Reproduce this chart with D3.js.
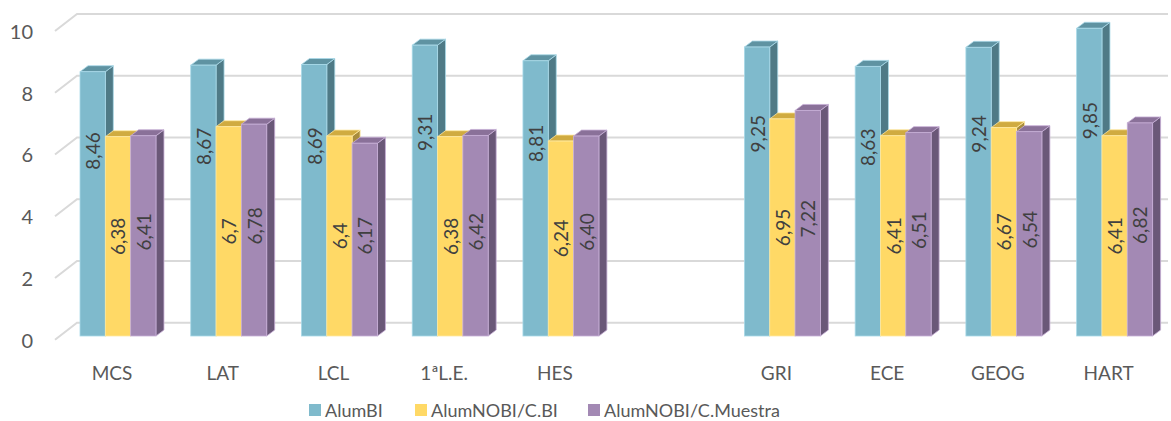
<!DOCTYPE html>
<html>
<head>
<meta charset="utf-8">
<script src="https://cdn.jsdelivr.net/npm/d3@7/dist/d3.min.js"></script>
<style>
  html, body { margin: 0; padding: 0; background: #ffffff; }
  svg { display: block; }
  text { font-family: "Source Sans Pro", "Lato", "Noto Sans", sans-serif; fill: #595959; }
</style>
</head>
<body>
<svg id="chart" width="1171" height="421"></svg>
<script>
// ---- data ----
const categories = ["MCS", "LAT", "LCL", "1ªL.E.", "HES", "", "GRI", "ECE", "GEOG", "HART"];
const seriesNames = ["AlumBI", "AlumNOBI/C.BI", "AlumNOBI/C.Muestra"];
const alumBI      = [8.46, 8.67, 8.69, 9.31, 8.81, null, 9.25, 8.63, 9.24, 9.85];
const alumNOBI_BI = [6.38, 6.70, 6.40, 6.38, 6.24, null, 6.95, 6.41, 6.67, 6.41];
const alumNOBI_M  = [6.41, 6.78, 6.17, 6.42, 6.40, null, 7.22, 6.51, 6.54, 6.82];
const labelsBI    = ["8,46", "8,67", "8,69", "9,31", "8,81", "", "9,25", "8,63", "9,24", "9,85"];
const labelsNOBI  = ["6,38", "6,7", "6,4", "6,38", "6,24", "", "6,95", "6,41", "6,67", "6,41"];
const labelsM     = ["6,41", "6,78", "6,17", "6,42", "6,40", "", "7,22", "6,51", "6,54", "6,82"];
const yTicks = [0, 2, 4, 6, 8, 10];

// ---- styling ----
const seriesValues = [alumBI, alumNOBI_BI, alumNOBI_M];
const seriesLabels = [labelsBI, labelsNOBI, labelsM];
const faceColors = [
  { front: "#7fbacc", top: "#5f93a2", side: "#4f7a86", edge: "#a9d9e8" },
  { front: "#ffd966", top: "#d0ab40", side: "#a88c3c", edge: "#ffe9a0" },
  { front: "#a389b4", top: "#8a7199", side: "#6a5878", edge: "#c6aed6" }
];
const labelFrac = [0.7, 0.5, 0.52];
const depth = { dx: 8, dy: -6 };
const slant = { dx: -22, dy: 17 };

const svg = d3.select("#chart");

// scales
const x = d3.scaleBand().domain(categories.map((c, i) => i)).range([80, 1152.6]).paddingInner(0.314).paddingOuter(0);
const xs = d3.scaleBand().domain(d3.range(seriesNames.length)).range([0, x.bandwidth()]);
const y = d3.scaleLinear().domain([0, 10]).range([336, 23.6]);       // bar plane
const yBack = d3.scaleLinear().domain([0, 10]).range([322.7, 14]);   // back wall

// gridlines
const grid = svg.append("g");
yTicks.forEach(t => {
  const yb = yBack(t);
  grid.append("path")
    .attr("d", `M${77 + slant.dx},${yb + slant.dy}L77,${yb}L1168,${yb}`)
    .attr("fill", "none").attr("stroke", "#d9d9d9").attr("stroke-width", 2);
});

// y tick labels
svg.append("g").selectAll("text").data(yTicks).join("text")
  .attr("x", 33).attr("y", d => yBack(d) + slant.dy)
  .attr("text-anchor", "end").attr("dominant-baseline", "central")
  .attr("font-size", 20).text(d => d);

// bars
const bars = svg.append("g");
categories.forEach((c, i) => {
  seriesValues.forEach((vals, s) => {
    const v = vals[i];
    if (v == null) return;
    const col = faceColors[s];
    const x0 = x(i) + xs(s), w = xs.bandwidth();
    const y0 = y(v), yb = y(0);
    const g = bars.append("g");
    g.append("path")
      .attr("d", `M${x0 + w},${y0}L${x0 + w + depth.dx},${y0 + depth.dy}L${x0 + w + depth.dx},${yb + depth.dy}L${x0 + w},${yb}Z`)
      .attr("fill", col.side).attr("stroke", col.edge).attr("stroke-width", 0.8);
    g.append("path")
      .attr("d", `M${x0},${y0}L${x0 + depth.dx},${y0 + depth.dy}L${x0 + w + depth.dx},${y0 + depth.dy}L${x0 + w},${y0}Z`)
      .attr("fill", col.top).attr("stroke", col.edge).attr("stroke-width", 0.8);
    g.append("rect")
      .attr("x", x0).attr("y", y0).attr("width", w).attr("height", yb - y0)
      .attr("fill", col.front).attr("stroke", col.edge).attr("stroke-width", 0.8);
  });
});

// data labels
const lab = svg.append("g");
categories.forEach((c, i) => {
  seriesValues.forEach((vals, s) => {
    const v = vals[i];
    if (v == null) return;
    const cx = x(i) + xs(s) + xs.bandwidth() / 2;
    const cy = y(0) - labelFrac[s] * (y(0) - y(v));
    lab.append("text")
      .attr("transform", `translate(${cx},${cy}) rotate(-90)`)
      .attr("text-anchor", "middle").attr("dominant-baseline", "central")
      .attr("font-size", 19).style("fill", "#404040")
      .text(seriesLabels[s][i]);
  });
});

// category labels
svg.append("g").selectAll("text").data(categories.map((c, i) => [c, i]).filter(d => d[0] !== "")).join("text")
  .attr("x", d => x(d[1]) + 32).attr("y", 372)
  .attr("text-anchor", "middle").attr("dominant-baseline", "central")
  .attr("font-size", 19).text(d => d[0]);

// legend
const legendX = [309, 415, 588];
const leg = svg.append("g");
seriesNames.forEach((n, s) => {
  leg.append("rect").attr("x", legendX[s]).attr("y", 404).attr("width", 12).attr("height", 12)
    .attr("fill", faceColors[s].front);
  leg.append("text").attr("x", legendX[s] + 16).attr("y", 409.5)
    .attr("dominant-baseline", "central").attr("font-size", 18).text(n);
});
</script>
</body>
</html>
